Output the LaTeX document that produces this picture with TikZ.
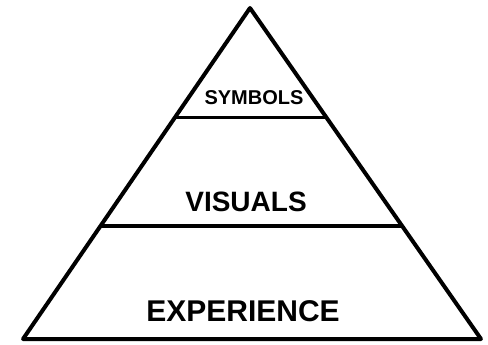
\documentclass[tikz,border=0pt]{standalone}
\usepackage{fontspec}
\newfontfamily\pyrfont{Liberation Sans}
\usetikzlibrary{calc}
\begin{document}
\begin{tikzpicture}[x = 1pt, y = -1pt, line width = 4pt, line join = round,
	layer/.style = {font = \pyrfont\bfseries}]
	\useasboundingbox (0,0) rectangle (488,345);
	\coordinate (apex) at (250,8);
	\coordinate (bl) at (23,339);
	\coordinate (br) at (481,339);
	\coordinate (sl) at ($(apex)!.33!(bl)$);
	\coordinate (sr) at ($(apex)!.33!(br)$);
	\coordinate (vl) at ($(apex)!.659!(bl)$);
	\coordinate (vr) at ($(apex)!.659!(br)$);
	\draw (apex)--(bl)--(br)--cycle;
	\draw[line width = 3pt] (sl)--(sr);
	\draw[line width = 3.4pt] (vl)--(vr);
	\node[layer, font = \pyrfont\bfseries\fontsize{20}{22}\selectfont] (sym) at (254,98) {SYMBOLS};
	\node[layer, font = \pyrfont\bfseries\fontsize{28}{30}\selectfont] (vis) at (246,202) {VISUALS};
	\node[layer, font = \pyrfont\bfseries\fontsize{30}{32}\selectfont] (exp) at (243,311) {EXPERIENCE};
\end{tikzpicture}
\end{document}
